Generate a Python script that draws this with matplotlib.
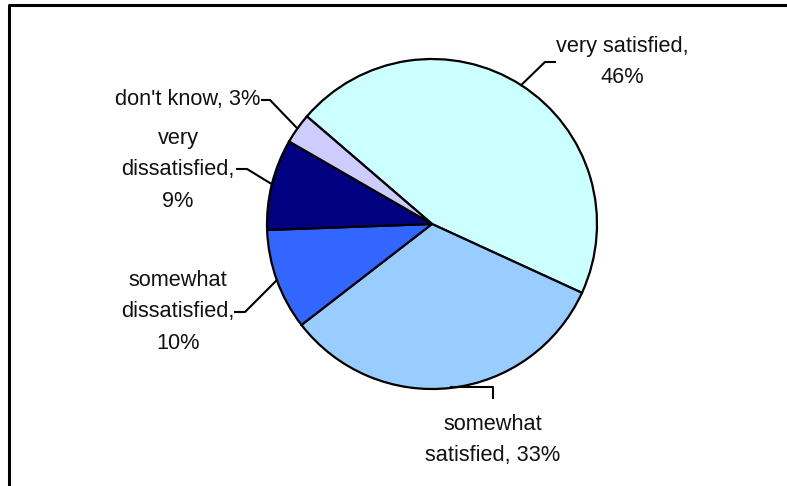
import matplotlib.pyplot as plt
import numpy as np

labels = ["very satisfied,\n46%", "somewhat\nsatisfied, 33%", "somewhat\ndissatisfied,\n10%",
          "very\ndissatisfied,\n9%", "don't know, 3%"]
values = [46, 33, 10, 9, 3]
colors = ["#CCFFFF", "#99CCFF", "#3366FF", "#000080", "#CCCCFF"]

plt.rcParams["font.family"] = ["Liberation Sans Narrow", "Liberation Sans", "DejaVu Sans"]

fig = plt.figure(figsize=(7.87, 4.86), dpi=100)
ax = fig.add_axes([0, 0, 1, 1])

cx, cy, r = 432, 262, 165
wedges, _ = ax.pie(values, colors=colors, startangle=139.3, counterclock=False,
                   center=(cx, cy), radius=r, frame=True,
                   wedgeprops=dict(edgecolor="black", linewidth=1.6))
ax.set_xlim(0, 787)
ax.set_ylim(0, 486)
ax.set_aspect("equal")
ax.axis("off")

# elbow point, end of leader, text position, alignment
layout = [
    ((545, 424), (555, 424), (622, 424), "center"),
    ((493, 99), (493, 88), (493, 46), "center"),
    ((245, 174), (235, 174), (178, 174), "center"),
    ((247, 317), (237, 317), (178, 316), "center"),
    ((270, 386), (262, 386), (260, 386), "right"),
]

for w, lab, (elbow, end, tpos, ha) in zip(wedges, labels, layout):
    mid = np.deg2rad((w.theta1 + w.theta2) / 2)
    px, py = cx + r * np.cos(mid), cy + r * np.sin(mid)
    if lab.startswith("somewhat\nsatisfied"):
        py = elbow[1]
    ax.plot([px, elbow[0], end[0]], [py, elbow[1], end[1]], color="black", lw=1.5)
    ax.text(tpos[0], tpos[1], lab, ha=ha, va="center", multialignment="center",
            fontsize=15.7, color="#111111", linespacing=1.68)

# chart border (left and top edges)
ax.plot([8.5, 8.5, 787], [0, 481, 481], color="black", lw=2.2, clip_on=False)

fig.savefig("out.png", dpi=100)
